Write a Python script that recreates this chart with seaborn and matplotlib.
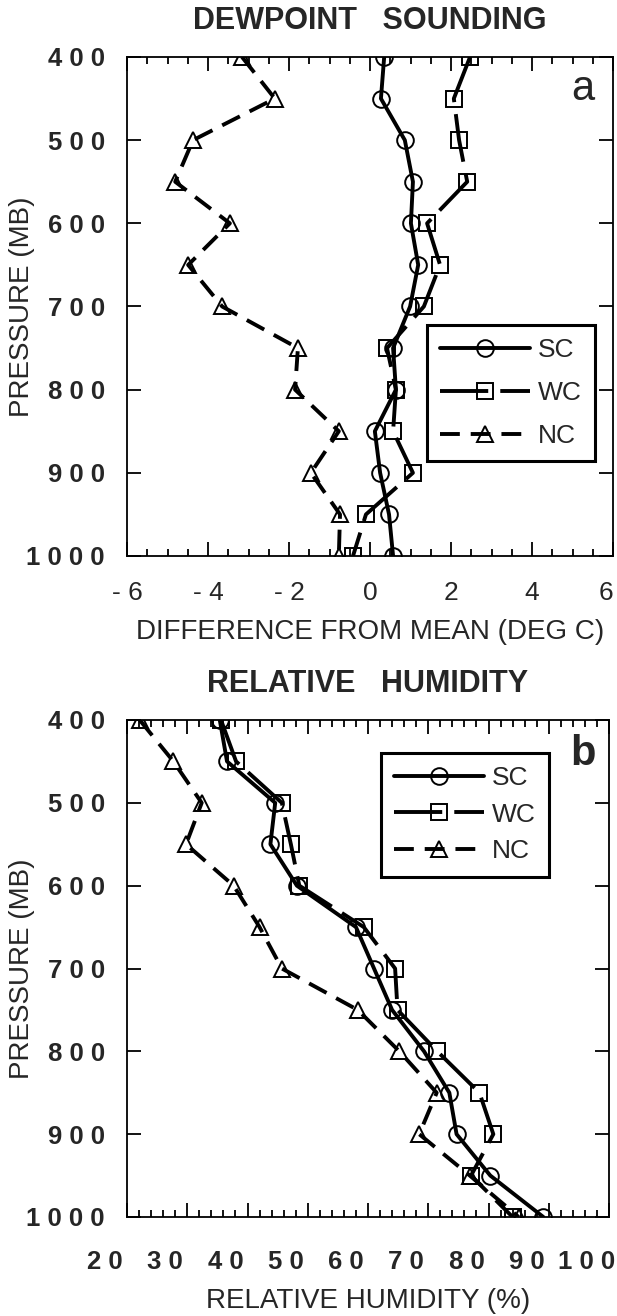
import matplotlib
matplotlib.use('Agg')
import matplotlib.pyplot as plt
import matplotlib.transforms as mtransforms
import numpy as np
import pandas as pd
import seaborn as sns

# 气压层 (mb)
pressure = [400, 450, 500, 550, 600, 650, 700, 750, 800, 850, 900, 950, 1000]
cases = ['SC', 'WC', 'NC']

# (a) 露点距平 (deg C)
sc_dew = [0.35, 0.27, 0.86, 1.06, 1.01, 1.19, 0.99, 0.57, 0.64, 0.12, 0.25, 0.47, 0.57]
wc_dew = [2.47, 2.07, 2.20, 2.40, 1.41, 1.73, 1.33, 0.42, 0.64, 0.57, 1.06, -0.10, -0.42]
nc_dew = [-3.16, -2.35, -4.37, -4.81, -3.46, -4.49, -3.65, -1.78, -1.85, -0.77, -1.46, -0.74, -0.77]

# (b) 相对湿度 (%)
sc_rh = [35.4, 36.6, 44.6, 43.8, 48.2, 58.0, 61.0, 64.0, 69.3, 73.5, 74.7, 80.3, 89.1]
wc_rh = [35.6, 38.1, 45.7, 47.2, 48.6, 59.3, 64.5, 64.9, 71.5, 78.5, 80.8, 77.1, 84.0]
nc_rh = [22.1, 27.7, 32.4, 29.8, 37.7, 42.0, 45.7, 58.3, 65.2, 71.4, 68.5, 76.9, 85.0]

sns.set_style('ticks')
plt.rcParams['font.family'] = ['Liberation Sans', 'DejaVu Sans']
plt.rcParams['axes.linewidth'] = 1.3


def long_frame(sc, wc, nc):
    return pd.DataFrame({
        'pressure': pressure * 3,
        'value': sc + wc + nc,
        'case': [c for c in cases for _ in pressure],
    })


def spaced(v, pos=None):
    return ' '.join(str(int(round(v))))


def draw_panel(ax, df):
    sns.lineplot(data=df, x='value', y='pressure', hue='case', style='case',
                 palette={'SC': 'black', 'WC': 'black', 'NC': 'black'},
                 markers={'SC': 'o', 'WC': 's', 'NC': '^'},
                 dashes={'SC': '', 'WC': (12.4, 3.1), 'NC': (5.1, 2.8)},
                 sort=False, estimator=None, legend=False, ax=ax,
                 linewidth=2.8, markersize=12, markerfacecolor='none',
                 mec='black', mew=1.4)
    ax.set_ylim(1000, 400)
    ax.set_yticks(np.arange(400, 1001, 100))
    ax.yaxis.set_major_formatter(plt.FuncFormatter(spaced))
    ax.tick_params(which='both', direction='in', top=True, right=True,
                   color='black', width=1.3)
    ax.tick_params(which='major', length=10)
    ax.tick_params(which='minor', length=5)
    ax.tick_params(axis='y', labelsize=18.5, pad=16)
    for t in ax.get_yticklabels():
        t.set_fontweight('bold')
    ax.set_ylabel('PRESSURE (MB)', fontsize=20)
    ax.grid(False)
    for s in ax.spines.values():
        s.set_color('black')


def add_legend(ax, anchor, spacing):
    leg = ax.legend(ax.get_lines()[:3], cases, loc='upper left',
                    bbox_to_anchor=anchor, frameon=True, fancybox=False,
                    edgecolor='black', framealpha=1, fontsize=19,
                    handlelength=3.4, handletextpad=0.3, labelspacing=spacing,
                    borderpad=0.5, borderaxespad=0, numpoints=1)
    leg.get_frame().set_linewidth(2.2)


fig = plt.figure(figsize=(6.17, 13.16), dpi=100)
ax_a = fig.add_axes([127 / 617, 1 - 556 / 1316, 486 / 617, 499 / 1316])
ax_b = fig.add_axes([127 / 617, 1 - 1217 / 1316, 482 / 617, 497 / 1316])

# 图 a：露点
draw_panel(ax_a, long_frame(sc_dew, wc_dew, nc_dew))
ax_a.set_xlim(-6, 6)
ax_a.set_xticks(np.arange(-6, 7, 2))
ax_a.set_xticks(np.arange(-6, 6.01, 0.5), minor=True)
ax_a.xaxis.set_major_formatter(plt.FuncFormatter(spaced))
ax_a.tick_params(axis='x', labelsize=19, pad=18)
ax_a.set_xlabel('DIFFERENCE FROM MEAN (DEG C)', fontsize=20, labelpad=10)
ax_a.yaxis.set_label_coords(-0.19, 0.5)
ax_a.set_title('DEWPOINT   SOUNDING', fontsize=22, fontweight='bold', pad=20)
ax_a.text(0.938, 0.936, 'a', transform=ax_a.transAxes, fontsize=30,
          ha='center', va='center')
add_legend(ax_a, (0.617, 0.463), 0.72)

# 图 b：相对湿度
draw_panel(ax_b, long_frame(sc_rh, wc_rh, nc_rh))
ax_b.set_xlim(20, 100)
ax_b.set_xticks(np.arange(20, 101, 10))
ax_b.set_xticks(np.arange(20, 100.1, 2), minor=True)
ax_b.xaxis.set_major_formatter(plt.FuncFormatter(spaced))
ax_b.tick_params(axis='x', labelsize=18.5, pad=24)
for t in ax_b.get_xticklabels():
    t.set_fontweight('bold')
ax_b.set_xlabel('RELATIVE HUMIDITY (%)', fontsize=20, labelpad=10)
ax_b.yaxis.set_label_coords(-0.19, 0.5)
ax_b.set_title('RELATIVE   HUMIDITY', fontsize=22, fontweight='bold', pad=20)
ax_b.text(0.946, 0.932, 'b', transform=ax_b.transAxes, fontsize=30,
          fontweight='bold', ha='center', va='center')
add_legend(ax_b, (0.527, 0.934), 0.48)

fig.canvas.draw()
# a 图最右的刻度标签贴着右边缘
ax_a.xaxis.get_major_ticks()[-1].label1.set_horizontalalignment('right')
# b 图横轴刻度标签在原图中整体左移
shift = mtransforms.ScaledTranslation(-22 / 100, 0, fig.dpi_scale_trans)
for tick in ax_b.xaxis.get_major_ticks():
    tick.label1.set_transform(tick.label1.get_transform() + shift)

fig.savefig('out.png', dpi=100, facecolor='white')
